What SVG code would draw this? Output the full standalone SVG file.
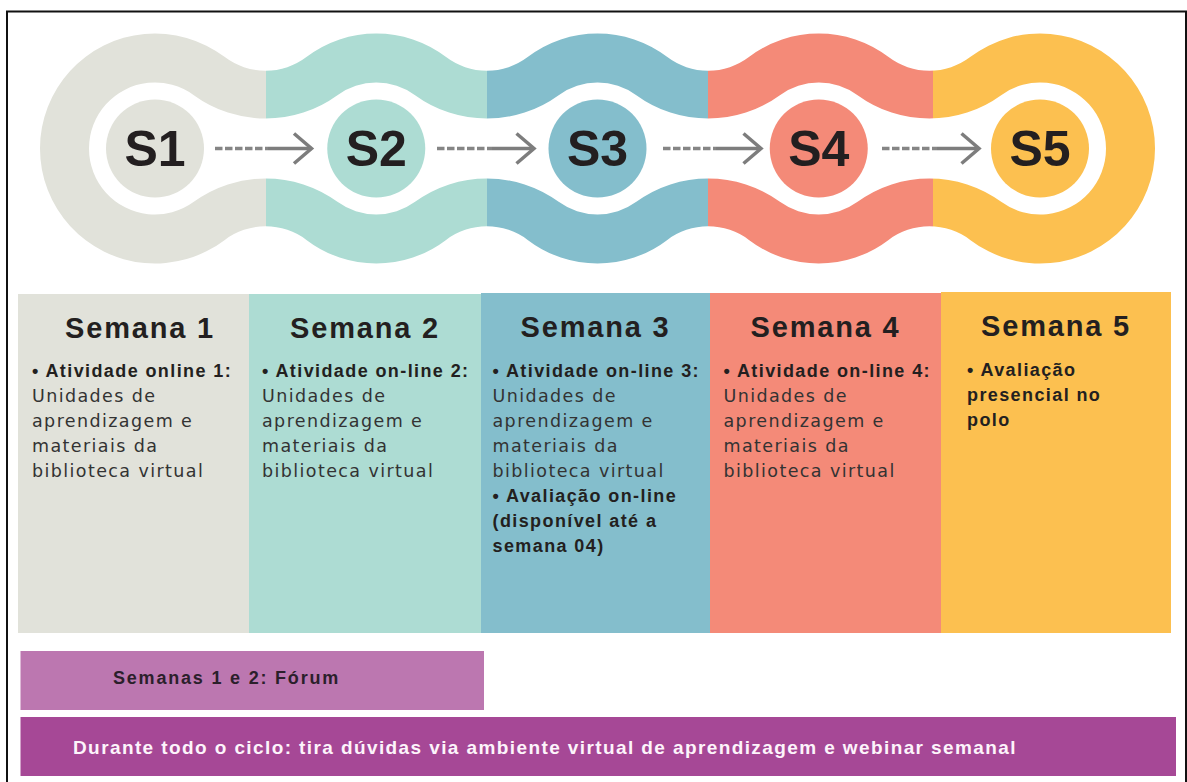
<svg xmlns="http://www.w3.org/2000/svg" width="1187" height="782" viewBox="0 0 1187 782">
<style>
.s{font-family:'Liberation Sans',Arial,sans-serif;font-weight:bold;font-size:50px;fill:#231f20;text-anchor:middle}
.h{font-family:'Liberation Sans',Arial,sans-serif;font-weight:bold;font-size:29px;letter-spacing:1.8px;fill:#231f20;text-anchor:middle}
.b{font-family:'Liberation Sans',Arial,sans-serif;font-weight:bold;font-size:18px;letter-spacing:1.4px;fill:#231f20}
.r{font-family:'DejaVu Sans','Liberation Sans',sans-serif;font-size:17.5px;letter-spacing:1.4px;fill:#333333}
.f{font-family:'Liberation Sans',Arial,sans-serif;font-weight:bold;font-size:18px;letter-spacing:1.8px;fill:#2b1f2b}
.m{font-family:'Liberation Sans',Arial,sans-serif;font-weight:bold;font-size:19px;letter-spacing:1.4px;fill:#fdf4fb}
.dash{fill:none;stroke:#858585;stroke-width:3.5;stroke-dasharray:7.5 2.5}
.solid{fill:none;stroke:#7d7d7d;stroke-width:3.5;marker-end:url(#chev)}
.c1{fill:#e1e2da}.c2{fill:#addcd3}.c3{fill:#84becc}.c4{fill:#f48a78}.c5{fill:#fcc050}
</style>
<defs>
<clipPath id="outer">
<path d="M224.48,56.87 A68.1 68.1 0 0 0 306.77,56.87 A115 115 0 0 1 445.73,56.87 A68.1 68.1 0 0 0 528.02,56.87 A115 115 0 0 1 666.98,56.87 A68.1 68.1 0 0 0 749.27,56.87 A115 115 0 0 1 888.23,56.87 A68.1 68.1 0 0 0 970.52,56.87 A115 115 0 1 1 970.52,240.13 A68.1 68.1 0 0 0 888.23,240.13 A115 115 0 0 1 749.27,240.13 A68.1 68.1 0 0 0 666.98,240.13 A115 115 0 0 1 528.02,240.13 A68.1 68.1 0 0 0 445.73,240.13 A115 115 0 0 1 306.77,240.13 A68.1 68.1 0 0 0 224.48,240.13 A115 115 0 1 1 224.48,56.87 Z"/>
</clipPath>
<marker id="chev" viewBox="-2 -2 24 34" refX="17.5" refY="15" markerWidth="24" markerHeight="34" markerUnits="userSpaceOnUse" orient="auto" overflow="visible">
<path d="M0,0 L17.5,15 L0,30" fill="none" stroke="#7d7d7d" stroke-width="3.5"/>
</marker>
</defs>
<rect width="1187" height="782" fill="#ffffff"/>
<path d="M7,790 V11.5 H1186 V790" fill="none" stroke="#111" stroke-width="2"/>

<g id="chain">
<g clip-path="url(#outer)">
<rect class="c1" x="0" y="0" width="266" height="300"/>
<rect class="c2" x="266" y="0" width="221" height="300"/>
<rect class="c3" x="487" y="0" width="221" height="300"/>
<rect class="c4" x="708" y="0" width="225" height="300"/>
<rect class="c5" x="933" y="0" width="254" height="300"/>
</g>
<path fill="#ffffff" d="M193.84,95.14 A121.97 121.97 0 0 0 337.41,95.14 A66 66 0 0 1 415.09,95.14 A121.97 121.97 0 0 0 558.66,95.14 A66 66 0 0 1 636.34,95.14 A121.97 121.97 0 0 0 779.91,95.14 A66 66 0 0 1 857.59,95.14 A121.97 121.97 0 0 0 1001.16,95.14 A66 66 0 1 1 1001.16,201.86 A121.97 121.97 0 0 0 857.59,201.86 A66 66 0 0 1 779.91,201.86 A121.97 121.97 0 0 0 636.34,201.86 A66 66 0 0 1 558.66,201.86 A121.97 121.97 0 0 0 415.09,201.86 A66 66 0 0 1 337.41,201.86 A121.97 121.97 0 0 0 193.84,201.86 A66 66 0 1 1 193.84,95.14 Z"/>
</g>

<g id="node-s1"><circle class="c1" cx="155" cy="148.5" r="49"/><text class="s" x="155" y="166">S1</text></g>
<g id="node-s2"><circle class="c2" cx="376.25" cy="148.5" r="49"/><text class="s" x="376.25" y="166">S2</text></g>
<g id="node-s3"><circle class="c3" cx="597.5" cy="148.5" r="49"/><text class="s" x="597.5" y="166">S3</text></g>
<g id="node-s4"><circle class="c4" cx="818.75" cy="148.5" r="49"/><text class="s" x="818.75" y="166">S4</text></g>
<g id="node-s5"><circle class="c5" cx="1040" cy="148.5" r="49"/><text class="s" x="1040" y="166">S5</text></g>

<g id="connectors">
<path class="dash" d="M215,148.5 H268"/><path class="solid" d="M268,148.5 H311.5"/>
<path class="dash" d="M437,148.5 H492"/><path class="solid" d="M492,148.5 H534"/>
<path class="dash" d="M663,148.5 H716"/><path class="solid" d="M716,148.5 H761"/>
<path class="dash" d="M882,148.5 H937"/><path class="solid" d="M937,148.5 H979"/>
</g>

<g id="week1">
<rect class="c1" x="18" y="294" width="231" height="339"/>
<text class="h" x="140" y="338">Semana 1</text>
<text class="b" x="32" y="377">• Atividade online 1:</text>
<text class="r" x="32" y="402">Unidades de</text>
<text class="r" x="32" y="427">aprendizagem e</text>
<text class="r" x="32" y="452">materiais da</text>
<text class="r" x="32" y="477">biblioteca virtual</text>
</g>
<g id="week2">
<rect class="c2" x="249" y="294" width="232" height="339"/>
<text class="h" x="365" y="338">Semana 2</text>
<text class="b" x="262" y="377">• Atividade on-line 2:</text>
<text class="r" x="262" y="402">Unidades de</text>
<text class="r" x="262" y="427">aprendizagem e</text>
<text class="r" x="262" y="452">materiais da</text>
<text class="r" x="262" y="477">biblioteca virtual</text>
</g>
<g id="week3">
<rect class="c3" x="481" y="293" width="229" height="340"/>
<text class="h" x="595.5" y="337">Semana 3</text>
<text class="b" x="492.5" y="377">• Atividade on-line 3:</text>
<text class="r" x="492.5" y="402">Unidades de</text>
<text class="r" x="492.5" y="427">aprendizagem e</text>
<text class="r" x="492.5" y="452">materiais da</text>
<text class="r" x="492.5" y="477">biblioteca virtual</text>
<text class="b" x="492.5" y="502">• Avaliação on-line</text>
<text class="b" x="492.5" y="527">(disponível até a</text>
<text class="b" x="492.5" y="552">semana 04)</text>
</g>
<g id="week4">
<rect class="c4" x="710" y="293" width="231" height="340"/>
<text class="h" x="825.5" y="337">Semana 4</text>
<text class="b" x="723.5" y="377">• Atividade on-line 4:</text>
<text class="r" x="723.5" y="402">Unidades de</text>
<text class="r" x="723.5" y="427">aprendizagem e</text>
<text class="r" x="723.5" y="452">materiais da</text>
<text class="r" x="723.5" y="477">biblioteca virtual</text>
</g>
<g id="week5">
<rect class="c5" x="941" y="292" width="230" height="341"/>
<text class="h" x="1056" y="336">Semana 5</text>
<text class="b" x="967" y="375.5">• Avaliação</text>
<text class="b" x="967" y="400.5">presencial no</text>
<text class="b" x="967" y="425.5">polo</text>
</g>

<g id="forum">
<rect x="20.5" y="651" width="463.5" height="59" fill="#bc77b0"/>
<text class="f" x="113" y="683.5">Semanas 1 e 2: Fórum</text>
</g>
<g id="cycle">
<rect x="20.5" y="717" width="1155.5" height="59" fill="#a64896"/>
<text class="m" x="73" y="754">Durante todo o ciclo: tira dúvidas via ambiente virtual de aprendizagem e webinar semanal</text>
</g>
</svg>
